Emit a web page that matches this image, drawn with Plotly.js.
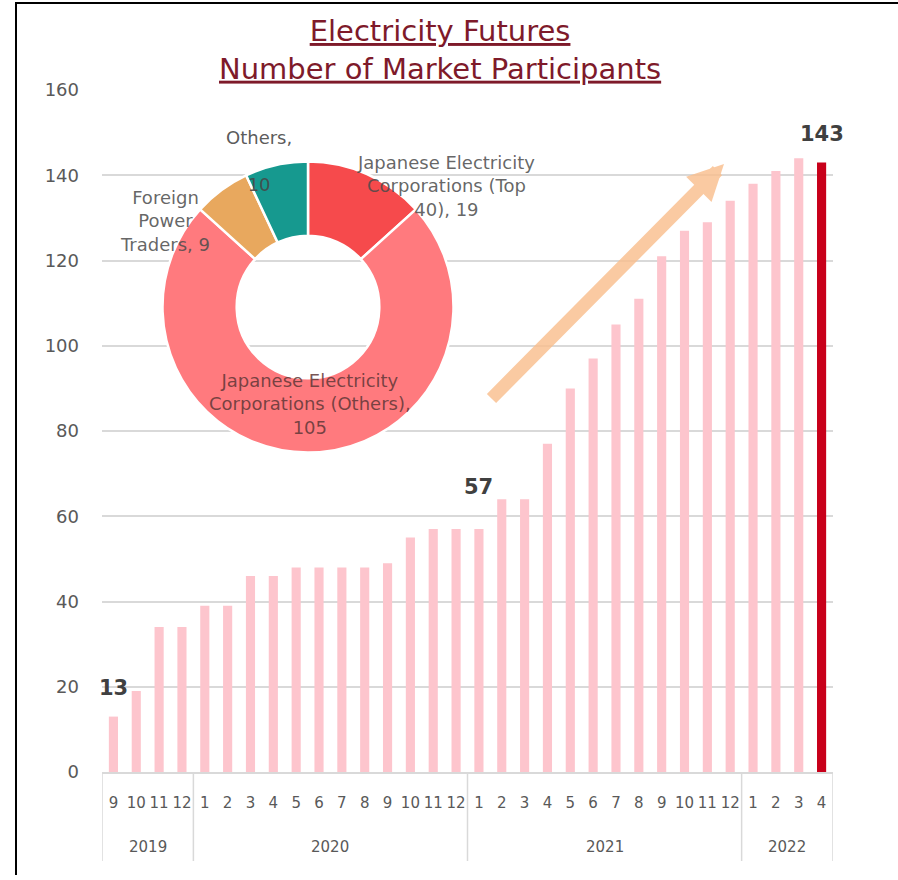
<!DOCTYPE html>
<html>
<head>
<meta charset="utf-8">
<script src="https://cdn.plot.ly/plotly-3.0.1.min.js"></script>
<style>
  html, body { margin: 0; padding: 0; background: #ffffff; }
  #wrap { position: relative; width: 898px; height: 880px; overflow: hidden; }
  #chart { position: absolute; left: 0; top: 0; width: 898px; height: 880px; }
  #frame { position: absolute; left: 15px; top: 2px; width: 900px; height: 871px;
           border-left: 2px solid #000; border-top: 2px solid #000; pointer-events: none; }
</style>
</head>
<body>
<div id="wrap">
  <div id="chart"></div>
  <div id="frame"></div>
</div>
<script>
// Monthly number of participants in electricity futures trading
const years = ['2019', '2020', '2021', '2022'];
const monthsByYear = [
  ['9', '10', '11', '12'],
  ['1', '2', '3', '4', '5', '6', '7', '8', '9', '10', '11', '12'],
  ['1', '2', '3', '4', '5', '6', '7', '8', '9', '10', '11', '12'],
  ['1', '2', '3', '4']
];
const participants = [
  13, 19, 34, 34,
  39, 39, 46, 46, 48, 48, 48, 48, 49, 55, 57, 57,
  57, 64, 64, 77, 90, 97, 105, 111, 121, 127, 129, 134,
  138, 141, 144, 143
];
// bars that carry a value label
const labelledBars = [0, 16, 31];

// Breakdown of the latest month's participants
const breakdownLabels = [
  'Japanese Electricity Corporations (Top 40)',
  'Japanese Electricity Corporations (Others)',
  'Foreign Power Traders',
  'Others'
];
const breakdownValues = [19, 105, 9, 10];

// ---- layout helpers ----
const W = 898, H = 880;
const M = { l: 102, r: 65, t: 90, b: 108 };
const PW = W - M.l - M.r, PH = H - M.t - M.b;
const px = x => (x - M.l) / PW;          // page x -> paper x
const py = y => (H - M.b - y) / PH;      // page y -> paper y

// one slot per month along x; month names become tick text
const xMonth = [];
const yearSpans = [];
monthsByYear.forEach((ms, i) => {
  const start = xMonth.length;
  ms.forEach(m => xMonth.push(m));
  yearSpans.push({ year: years[i], start: start, end: xMonth.length - 1 });
});
const xIdx = xMonth.map((m, i) => i);

const lastIdx = participants.length - 1;
const barColors = participants.map((v, i) => i === lastIdx ? '#C8001A' : '#FDC5CD');

const bars = {
  type: 'bar',
  x: xIdx,
  y: participants,
  marker: { color: barColors },
  hovertemplate: '%{y}<extra></extra>',
  showlegend: false
};

// donut of the breakdown
const cx = 308, cy = 307, R = 145.5;
const donut = {
  type: 'pie',
  labels: breakdownLabels,
  values: breakdownValues,
  hole: 0.49,
  sort: false,
  direction: 'clockwise',
  rotation: 0,
  textinfo: 'none',
  marker: {
    colors: ['#F64A4C', '#FF7A7E', '#E8A85E', '#16998F'],
    line: { color: '#ffffff', width: 2.5 }
  },
  domain: { x: [px(cx - R), px(cx + R)], y: [py(cy + R), py(cy - R)] },
  showlegend: false,
  hoverinfo: 'label+value'
};

const annotations = [];

// title
annotations.push({
  xref: 'paper', yref: 'paper',
  x: px(440), y: py(50),
  xanchor: 'center', yanchor: 'middle',
  text: 'Electricity Futures<br>Number of Market Participants',
  showarrow: false, align: 'center',
  font: { family: 'DejaVu Sans', size: 29, color: '#7E1A2A', lineposition: 'under' }
});

// slice label text, wrapped the same way as the printed labels
const sliceText = [
  `Japanese Electricity<br>Corporations (Top<br>40), ${breakdownValues[0]}`,
  `Japanese Electricity<br>Corporations (Others),<br>${breakdownValues[1]}`,
  `Foreign<br>Power<br>Traders, ${breakdownValues[2]}`,
  `Others,<br><br>${breakdownValues[3]}`
];
const slicePos = [[446, 186], [310, 404], [165, 221], [259, 161]];
const sliceColor = ['rgba(75,75,75,0.85)', 'rgba(95,55,55,0.85)', 'rgba(75,75,75,0.85)', 'rgba(70,70,70,0.9)'];
sliceText.forEach((t, i) => annotations.push({
  xref: 'paper', yref: 'paper',
  x: px(slicePos[i][0]), y: py(slicePos[i][1]),
  xanchor: 'center', yanchor: 'middle',
  text: t, showarrow: false, align: 'center',
  font: { family: 'DejaVu Sans', size: 18, color: sliceColor[i] }
}));

// value labels above selected bars
const labelLift = [29, 42, 28];
labelledBars.forEach((b, k) => annotations.push({
  xref: 'x', yref: 'y',
  x: b, y: participants[b],
  yshift: labelLift[k],
  xanchor: 'center', yanchor: 'middle',
  text: String(participants[b]), showarrow: false,
  font: { family: 'DejaVu Sans', size: 21, color: '#404040', weight: 'bold' }
}));

// year row below the month labels
yearSpans.forEach(s => annotations.push({
  xref: 'x', yref: 'paper',
  x: (s.start + s.end) / 2, y: py(847),
  xanchor: 'center', yanchor: 'middle',
  text: s.year, showarrow: false,
  font: { family: 'DejaVu Sans', size: 15, color: '#595959' }
}));

// growth arrow
annotations.push({
  xref: 'paper', yref: 'paper',
  x: px(724), y: py(164),
  ax: 490 - 724, ay: 400 - 164,
  text: '', showarrow: true,
  arrowhead: 2, arrowsize: 0.55, arrowwidth: 13,
  arrowcolor: 'rgba(250,190,140,0.8)'
});

// dividers between years
const bounds = [yearSpans[0].start - 0.5].concat(yearSpans.map(s => s.end + 0.5));
const shapes = bounds.map(b => ({
  type: 'line', xref: 'x', yref: 'paper',
  x0: b, x1: b, y0: 0, y1: py(861),
  line: { color: '#d9d9d9', width: 1.5 }
}));

const layout = {
  width: W, height: H,
  margin: M,
  paper_bgcolor: '#ffffff',
  plot_bgcolor: '#ffffff',
  bargap: 0.6,
  xaxis: {
    range: [-0.5, participants.length - 0.5],
    tickmode: 'array', tickvals: xIdx, ticktext: xMonth, tickangle: 0,
    showline: true, linecolor: '#d9d9d9', linewidth: 1.5,
    showgrid: false, zeroline: false,
    ticks: '', ticklabelstandoff: 16,
    tickfont: { family: 'DejaVu Sans', size: 15, color: '#595959' },
    fixedrange: true
  },
  yaxis: {
    range: [0, 160], dtick: 20,
    showgrid: true, gridcolor: '#d9d9d9', gridwidth: 1.5,
    zeroline: false, showline: false,
    ticks: '', ticklabelstandoff: 22,
    tickfont: { family: 'DejaVu Sans', size: 18, color: '#595959' },
    fixedrange: true
  },
  annotations: annotations,
  shapes: shapes
};

Plotly.newPlot('chart', [bars, donut], layout, { displayModeBar: false });
</script>
</body>
</html>
